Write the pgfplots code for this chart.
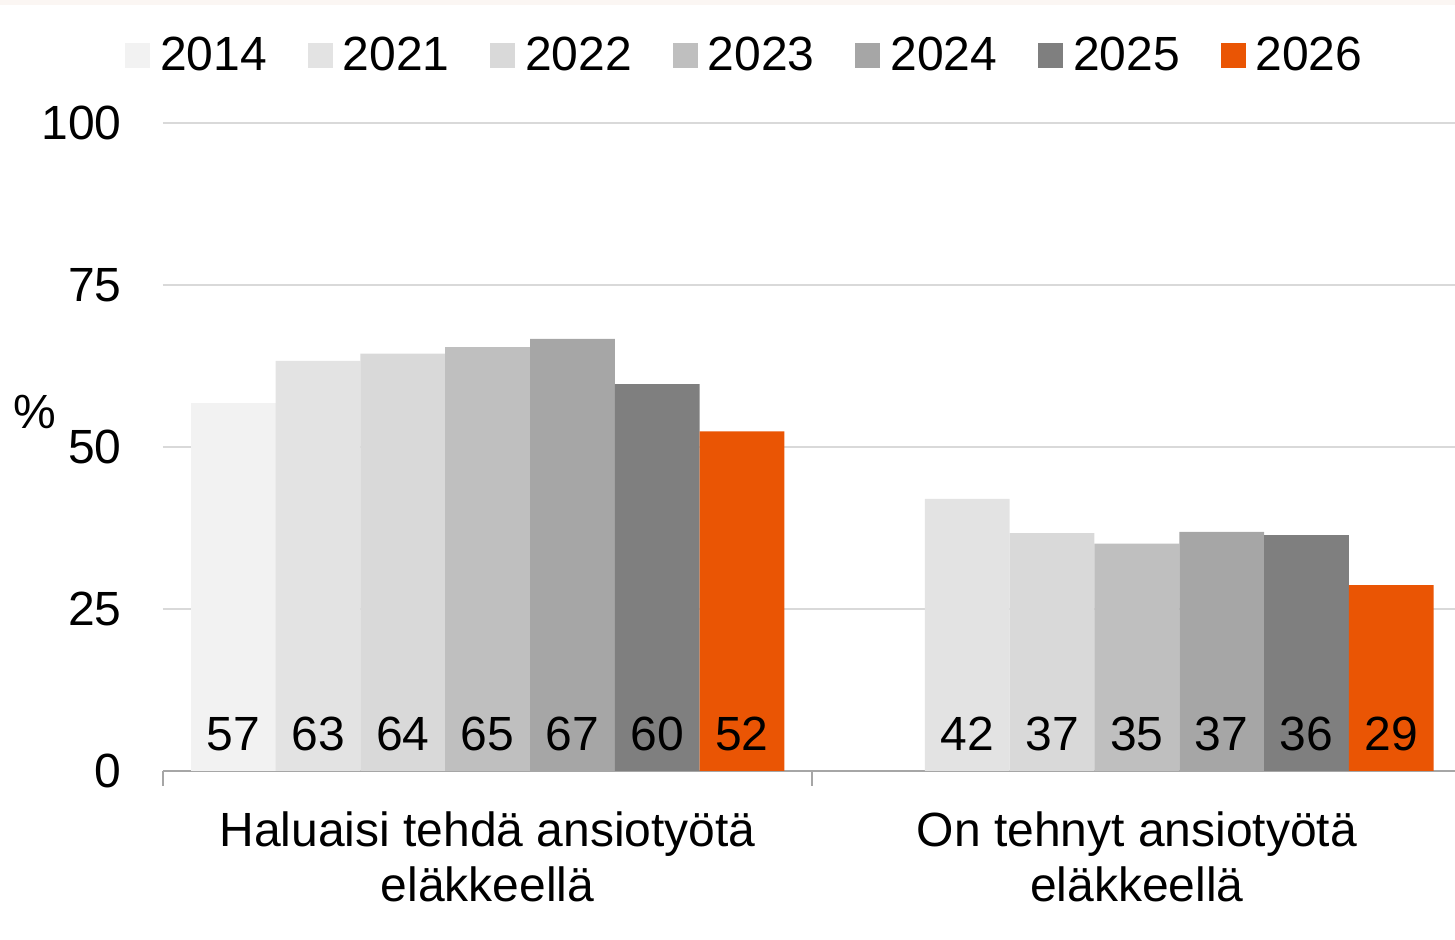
\documentclass[border=0pt]{standalone}
\usepackage{pgfplots}
\pgfplotsset{compat=1.18}
\usepackage{pgfplotstable}
\usepackage{fontspec}
\setmainfont{Liberation Sans}
\definecolor{c14}{HTML}{F2F2F2}
\definecolor{c21}{HTML}{E3E3E3}
\definecolor{c22}{HTML}{D9D9D9}
\definecolor{c23}{HTML}{BFBFBF}
\definecolor{c24}{HTML}{A6A6A6}
\definecolor{c25}{HTML}{7F7F7F}
\definecolor{c26}{HTML}{EA5504}
\definecolor{gridgray}{HTML}{D9D9D9}
\definecolor{axgray}{HTML}{A6A6A6}
\definecolor{topstrip}{HTML}{FBF6F3}
\newcommand\bigfont{\fontsize{24}{27.5}\selectfont}
\pgfplotstableread{
g y14 y21 y22 y23 y24 y25 y26
0 56.8 63.3 64.4 65.4 66.7 59.7 52.4
1 nan 42.0 36.7 35.1 36.9 36.4 28.7
}\datatable
\begin{document}
\begin{tikzpicture}
\useasboundingbox (-81.5pt,-84.5pt) rectangle (646pt,385.5pt);
\fill[topstrip] (-81.5pt,383pt) rectangle (646pt,385.5pt);
\begin{axis}[
  at={(0,0)}, anchor=south west, scale only axis,
  width=646pt, height=324pt,
  ybar=0pt, bar width=0.1306,
  xmin=-0.5, xmax=1.49, ymin=0, ymax=100,
  ytick={0,25,50,75,100},
  xtick={0,1},
  xticklabels={{Haluaisi tehdä ansiotyötä\\eläkkeellä},{On tehnyt ansiotyötä\\eläkkeellä}},
  minor xtick={-0.5,0.5,1.5},
  tick align=outside, major tick length=0pt, minor tick length=7.5pt,
  minor tick style={color=axgray, line width=0.8pt},
  axis x line*=bottom, axis y line*=left,
  y axis line style={draw=none},
  x axis line style={color=axgray, line width=0.9pt, -},
  ytick style={draw=none},
  ymajorgrids, grid style={color=gridgray, line width=0.6pt},
  /pgf/number format/assume math mode=true,
  yticklabel style={font=\bigfont, inner sep=0pt, anchor=east, xshift=-20.5pt},
  xticklabel style={font=\bigfont, align=center, inner sep=0pt, anchor=north, yshift=-20pt},
  legend style={at={(0.4495,1.1053)}, anchor=center, draw=none, fill=none,
    font=\bigfont, nodes={inner sep=0pt},
    /tikz/every odd column/.append style={column sep=5pt},
    /tikz/every even column/.append style={column sep=20.4pt}},
  legend columns=-1,
  legend image code/.code={\fill[#1,draw=none] (0pt,-6.4pt) rectangle (12.5pt,6.1pt);},
  visualization depends on={rawy \as \rawy},
  nodes near coords={\pgfmathprintnumber[fixed,precision=0]{\pgfplotspointmeta}},
  every node near coord/.append style={font=\bigfont, text=black, inner sep=0pt, anchor=south, yshift={10pt-\rawy*3.24pt}},
  clip=false,
]
\addplot[fill=c14, draw=none] table[x=g, y=y14]{\datatable};
\addplot[fill=c21, draw=none] table[x=g, y=y21]{\datatable};
\addplot[fill=c22, draw=none] table[x=g, y=y22]{\datatable};
\addplot[fill=c23, draw=none] table[x=g, y=y23]{\datatable};
\addplot[fill=c24, draw=none] table[x=g, y=y24]{\datatable};
\addplot[fill=c25, draw=none] table[x=g, y=y25]{\datatable};
\addplot[fill=c26, draw=none] table[x=g, y=y26]{\datatable};
\legend{2014,2021,2022,2023,2024,2025,2026}
\end{axis}
\node[font=\bigfont, inner sep=0pt] at (-64pt,179.5pt) {\%};
\end{tikzpicture}
\end{document}
